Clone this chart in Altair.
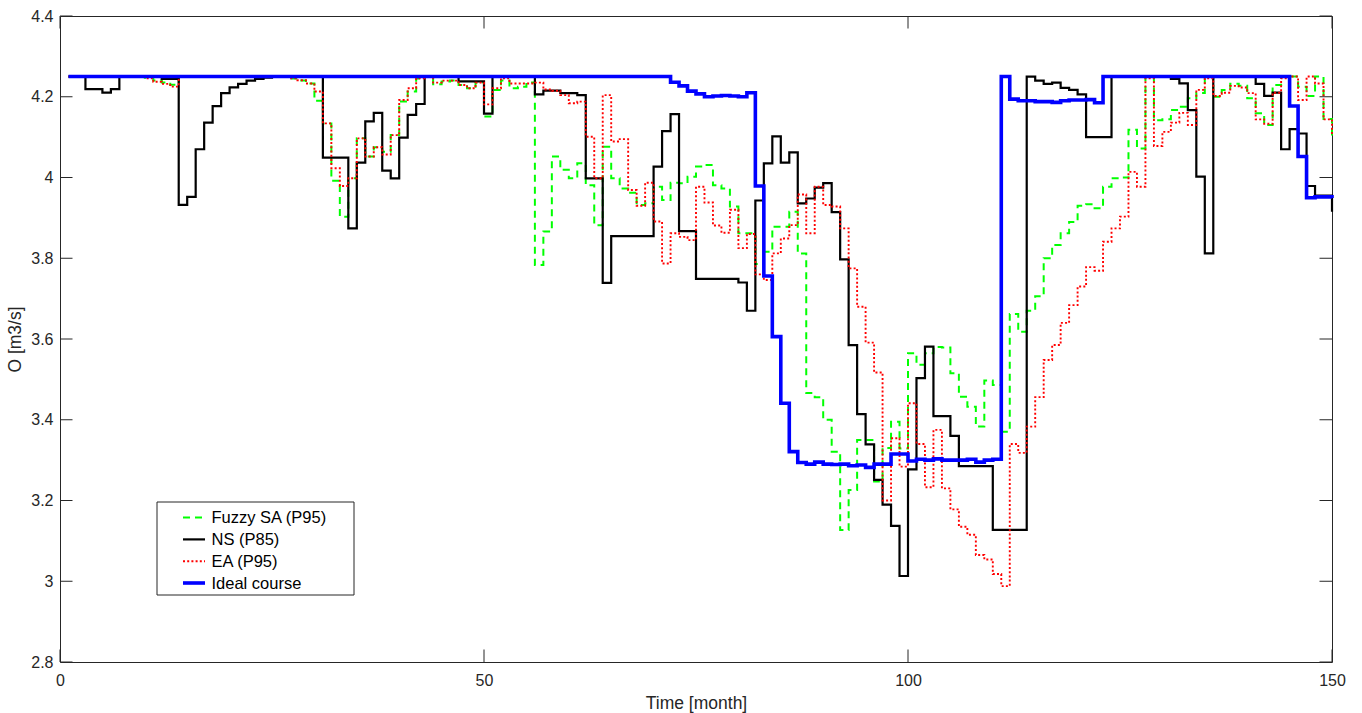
import altair as alt
import pandas as pd

# Month index of every sample (stairs start at month 1)
months = list(range(1, 151))

# Fuzzy SA (P95)
fuzzy_sa = [
    4.25, 4.25, 4.25, 4.25, 4.25, 4.25, 4.25, 4.25, 4.25, 4.247,
    4.240, 4.235, 4.230, 4.25, 4.25, 4.25, 4.25, 4.25, 4.25, 4.25,
    4.25, 4.25, 4.25, 4.25, 4.25, 4.25, 4.245, 4.240, 4.233, 4.190,
    4.134, 3.992, 3.903, 3.998, 4.097, 4.052, 4.075, 4.064, 4.105, 4.188,
    4.213, 4.245, 4.25, 4.231, 4.238, 4.240, 4.229, 4.221, 4.235, 4.151,
    4.217, 4.240, 4.221, 4.225, 4.235, 3.783, 3.866, 4.052, 4.019, 3.998,
    4.035, 3.981, 3.882, 4.076, 3.998, 3.973, 3.962, 3.932, 3.936, 3.977,
    3.944, 3.987, 3.986, 4.002, 4.027, 4.031, 3.981, 3.973, 3.928, 3.862,
    3.862, 3.786, 3.816, 3.878, 3.878, 3.915, 3.812, 3.466, 3.456, 3.400,
    3.321, 3.127, 3.226, 3.350, 3.350, 3.247, 3.330, 3.395, 3.329, 3.565,
    3.536, 3.565, 3.580, 3.579, 3.515, 3.457, 3.432, 3.383, 3.497, 3.486,
    3.370, 3.662, 3.618, 3.670, 3.706, 3.800, 3.833, 3.862, 3.890, 3.930,
    3.934, 3.924, 3.977, 3.998, 4.000, 4.118, 4.072, 4.250, 4.142, 4.144,
    4.167, 4.175, 4.196, 4.209, 4.250, 4.200, 4.217, 4.232, 4.227, 4.196,
    4.159, 4.130, 4.229, 4.250, 4.250, 4.225, 4.202, 4.250, 4.145, 4.103,
]

# NS (P85)
ns = [
    4.25, 4.25, 4.219, 4.219, 4.210, 4.219, 4.25, 4.25, 4.25, 4.25,
    4.25, 4.244, 4.244, 3.932, 3.952, 4.070, 4.136, 4.177, 4.209, 4.223,
    4.232, 4.240, 4.244, 4.247, 4.25, 4.25, 4.25, 4.25, 4.25, 4.25,
    4.049, 4.049, 4.049, 3.874, 4.037, 4.139, 4.160, 4.017, 3.998, 4.099,
    4.155, 4.182, 4.25, 4.25, 4.25, 4.25, 4.238, 4.238, 4.238, 4.158,
    4.25, 4.25, 4.25, 4.25, 4.25, 4.206, 4.215, 4.215, 4.209, 4.209,
    4.204, 3.998, 3.998, 3.739, 3.855, 3.855, 3.855, 3.855, 3.855, 4.027,
    4.115, 4.157, 3.867, 3.867, 3.749, 3.749, 3.749, 3.749, 3.749, 3.740,
    3.670, 3.943, 4.035, 4.102, 4.037, 4.062, 3.936, 3.948, 3.975, 3.986,
    3.914, 3.797, 3.585, 3.414, 3.339, 3.251, 3.190, 3.137, 3.013, 3.277,
    3.503, 3.581, 3.409, 3.409, 3.360, 3.285, 3.285, 3.285, 3.285, 3.127,
    3.127, 3.127, 3.127, 4.25, 4.240, 4.232, 4.235, 4.222, 4.217, 4.206,
    4.100, 4.100, 4.100, 4.25, 4.25, 4.25, 4.25, 4.25, 4.25, 4.25,
    4.244, 4.233, 4.167, 4.002, 3.812, 4.25, 4.25, 4.25, 4.25, 4.25,
    4.232, 4.202, 4.210, 4.070, 4.120, 4.109, 3.979, 3.955, 3.955, 3.915,
]

# EA (P95)
ea = [
    4.25, 4.25, 4.25, 4.25, 4.25, 4.25, 4.25, 4.25, 4.25, 4.246,
    4.237, 4.232, 4.225, 4.25, 4.25, 4.25, 4.25, 4.25, 4.25, 4.25,
    4.25, 4.25, 4.25, 4.25, 4.25, 4.25, 4.246, 4.241, 4.233, 4.213,
    4.134, 4.023, 3.979, 3.998, 4.097, 4.052, 4.075, 4.057, 4.105, 4.192,
    4.221, 4.246, 4.25, 4.235, 4.240, 4.240, 4.229, 4.221, 4.235, 4.181,
    4.221, 4.246, 4.233, 4.233, 4.233, 4.235, 4.218, 4.215, 4.204, 4.184,
    4.188, 4.101, 3.998, 4.204, 4.089, 4.095, 3.969, 3.930, 3.987, 3.891,
    3.787, 3.862, 3.853, 3.845, 3.977, 3.938, 3.881, 3.863, 3.920, 3.825,
    3.860, 3.760, 3.746, 3.812, 3.849, 3.882, 3.958, 3.862, 3.977, 3.932,
    3.928, 3.874, 3.775, 3.680, 3.591, 3.517, 3.200, 3.354, 3.284, 3.441,
    3.340, 3.233, 3.375, 3.230, 3.178, 3.135, 3.115, 3.065, 3.054, 3.018,
    2.988, 3.340, 3.318, 3.383, 3.456, 3.548, 3.585, 3.640, 3.684, 3.730,
    3.778, 3.769, 3.841, 3.874, 3.903, 4.014, 3.977, 4.246, 4.078, 4.113,
    4.136, 4.160, 4.130, 4.217, 4.246, 4.202, 4.210, 4.227, 4.223, 4.209,
    4.144, 4.133, 4.210, 4.246, 4.250, 4.192, 4.250, 4.233, 4.144, 4.103,
]

# Ideal course
ideal = [
    4.25, 4.25, 4.25, 4.25, 4.25, 4.25, 4.25, 4.25, 4.25, 4.25,
    4.25, 4.25, 4.25, 4.25, 4.25, 4.25, 4.25, 4.25, 4.25, 4.25,
    4.25, 4.25, 4.25, 4.25, 4.25, 4.25, 4.25, 4.25, 4.25, 4.25,
    4.25, 4.25, 4.25, 4.25, 4.25, 4.25, 4.25, 4.25, 4.25, 4.25,
    4.25, 4.25, 4.25, 4.25, 4.25, 4.25, 4.25, 4.25, 4.25, 4.25,
    4.25, 4.25, 4.25, 4.25, 4.25, 4.25, 4.25, 4.25, 4.25, 4.25,
    4.25, 4.25, 4.25, 4.25, 4.25, 4.25, 4.25, 4.25, 4.25, 4.25,
    4.25, 4.236, 4.227, 4.214, 4.207, 4.200, 4.202, 4.203, 4.202, 4.200,
    4.210, 3.979, 3.756, 3.606, 3.441, 3.321, 3.294, 3.290, 3.295, 3.290,
    3.289, 3.290, 3.286, 3.288, 3.282, 3.290, 3.290, 3.315, 3.315, 3.298,
    3.302, 3.300, 3.303, 3.300, 3.300, 3.300, 3.302, 3.295, 3.300, 3.302,
    4.250, 4.194, 4.190, 4.190, 4.188, 4.188, 4.186, 4.190, 4.192, 4.192,
    4.193, 4.185, 4.25, 4.25, 4.25, 4.25, 4.25, 4.25, 4.25, 4.25,
    4.25, 4.25, 4.25, 4.25, 4.25, 4.25, 4.25, 4.25, 4.25, 4.25,
    4.25, 4.25, 4.25, 4.25, 4.177, 4.052, 3.950, 3.952, 3.952, 3.949,
]

series_names = ["Fuzzy SA (P95)", "NS (P85)", "EA (P95)", "Ideal course"]
series_values = [fuzzy_sa, ns, ea, ideal]

x_ticks = [0, 50, 100, 150]
y_ticks = [2.8, 3.0, 3.2, 3.4, 3.6, 3.8, 4.0, 4.2, 4.4]

# Line styles: colour, width, dash pattern
styles = {
    "Fuzzy SA (P95)": dict(color="#00ff00", strokeWidth=2, strokeDash=[7, 5]),
    "NS (P85)": dict(color="#000000", strokeWidth=2.2),
    "EA (P95)": dict(color="#ff0000", strokeWidth=1.9, strokeDash=[2, 2.2]),
    "Ideal course": dict(color="#0000ff", strokeWidth=3.6),
}

W, H = 1272, 646
FONT = "Liberation Sans"
AXIS_COLOR = "#262626"
TICK_LEN = 12.5

rows = []
for name, vals in zip(series_names, series_values):
    for m, v in zip(months, vals):
        rows.append({"month": m, "value": v, "series": name})
df = pd.DataFrame(rows)

X = alt.X(
    "month:Q",
    title="Time [month]",
    scale=alt.Scale(domain=[0, 150], nice=False, zero=False),
    axis=alt.Axis(values=x_ticks, format="d", ticks=False, tickSize=0, domain=False,
                  grid=False, labelFlush=False, labelPadding=10, titlePadding=6),
)
Y = alt.Y(
    "value:Q",
    title="O [m3/s]",
    scale=alt.Scale(domain=[2.8, 4.4], nice=False, zero=False),
    axis=alt.Axis(values=y_ticks, format="~g", ticks=False, tickSize=0, domain=False,
                  grid=False, labelFlush=False, labelPadding=7, titlePadding=6),
)

base = alt.Chart(df)
layers = []
for name in series_names:
    layers.append(
        base.transform_filter(alt.datum.series == name)
        .mark_line(interpolate="step-after", **styles[name])
        .encode(x=X, y=Y)
    )

# Inward-pointing tick marks on all four sides of the box
ytick_df = pd.DataFrame({"value": y_ticks})
xtick_df = pd.DataFrame({"month": x_ticks})
tick_style = dict(color=AXIS_COLOR, strokeWidth=1)
layers.append(alt.Chart(ytick_df).mark_rule(**tick_style).encode(
    y=Y, x=alt.value(0), x2=alt.value(TICK_LEN)))
layers.append(alt.Chart(ytick_df).mark_rule(**tick_style).encode(
    y=Y, x=alt.value(W - TICK_LEN), x2=alt.value(W)))
layers.append(alt.Chart(xtick_df).mark_rule(**tick_style).encode(
    x=X, y=alt.value(H), y2=alt.value(H - TICK_LEN)))
layers.append(alt.Chart(xtick_df).mark_rule(**tick_style).encode(
    x=X, y=alt.value(0), y2=alt.value(TICK_LEN)))

# Legend box in the lower-left corner
one = pd.DataFrame({"k": [0]})
LX0, LX1, LY0, LY1 = 97, 294, 486, 579
layers.append(alt.Chart(one).mark_rect(fill="white", stroke=AXIS_COLOR, strokeWidth=1).encode(
    x=alt.value(LX0), x2=alt.value(LX1), y=alt.value(LY0), y2=alt.value(LY1)))
row_y = [501.6, 523.4, 545.2, 567.0]
for name, ry in zip(series_names, row_y):
    st = styles[name]
    layers.append(alt.Chart(one).mark_rule(**st).encode(
        x=alt.value(123), x2=alt.value(145), y=alt.value(ry)))
    layers.append(alt.Chart(one).mark_text(
        align="left", baseline="middle", font=FONT, fontSize=16.5, color="#000000"
    ).encode(x=alt.value(151.5), y=alt.value(ry + 0.5), text=alt.value(name)))

chart = (
    alt.layer(*layers)
    .properties(
        width=W,
        height=H,
        padding={"left": 60, "top": 16, "right": 30, "bottom": 51},
        autosize=alt.AutoSizeParams(type="none"),
        background="white",
    )
    .configure_view(stroke=AXIS_COLOR, strokeWidth=1)
    .configure_axis(
        labelFont=FONT, labelFontSize=16, labelColor=AXIS_COLOR,
        titleFont=FONT, titleFontSize=17.5, titleColor=AXIS_COLOR,
        titleFontWeight="normal",
    )
)

chart.save("out.html", embed_options={"renderer": "svg", "actions": False})
